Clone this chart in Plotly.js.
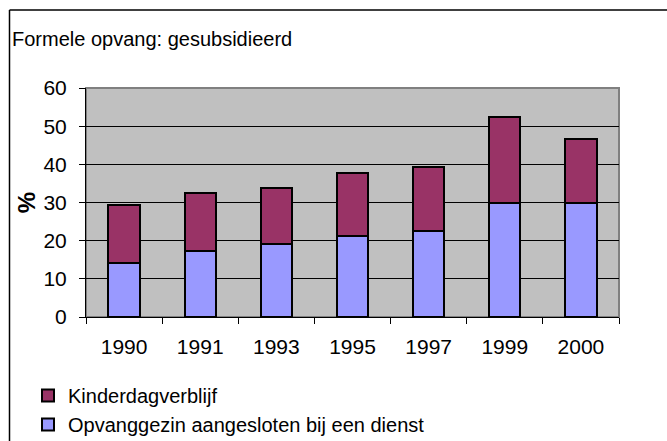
<!DOCTYPE html>
<html>
<head>
<meta charset="utf-8">
<script src="https://cdn.plot.ly/plotly-3.0.1.min.js"></script>
<style>html,body{margin:0;padding:0;background:#fff;}#chart{width:667px;height:441px;}</style>
</head>
<body>
<div id="chart"></div>
<script>
var years = ["1990", "1991", "1993", "1995", "1997", "1999", "2000"];
var opvanggezin = [14.2, 17.3, 19.0, 21.2, 22.6, 30.0, 30.0];
var kinderdagverblijf = [15.2, 15.2, 14.7, 16.6, 16.8, 22.5, 16.7];
var seriesNames = ["Opvanggezin aangesloten bij een dienst", "Kinderdagverblijf"];
var yTicks = [0, 10, 20, 30, 40, 50, 60];
var titleText = "Formele opvang: gesubsidieerd";

var W = 667, H = 441, L = 86, R = 48, T = 88, B = 124;
var pw = W - L - R, ph = H - T - B;
function px(x) { return (x - L) / pw; }
function py(y) { return (H - B - y) / ph; }

var font = "Liberation Sans, Arial, sans-serif";

var traces = [
  {
    type: "bar", x: years, y: opvanggezin, name: seriesNames[0], legendgroup: "a", legendrank: 2,
    marker: {color: "#9999ff", line: {color: "#000000", width: 2}}
  },
  {
    type: "bar", x: years, y: kinderdagverblijf, name: seriesNames[1], legendgroup: "b", legendrank: 1,
    marker: {color: "#993366", line: {color: "#000000", width: 2}}
  }
];

var layout = {
  width: W, height: H,
  margin: {l: L, r: R, t: T, b: B, pad: 0, autoexpand: false},
  paper_bgcolor: "#ffffff",
  plot_bgcolor: "#c0c0c0",
  barmode: "stack",
  bargap: 0.59,
  font: {family: font, color: "#000000", size: 21},
  title: {
    text: titleText, xref: "container", x: 12 / W, xanchor: "left",
    yref: "container", y: 1 - 39 / H, yanchor: "middle",
    font: {family: font, size: 20, color: "#000000"}
  },
  xaxis: {
    type: "category",
    showgrid: false,
    showline: true, linecolor: "#000000", linewidth: 1,
    ticks: "outside", tickson: "boundaries", ticklen: 6, tickcolor: "#000000", tickwidth: 1,
    ticklabelstandoff: 11,
    tickfont: {family: font, size: 21, color: "#000000"},
    zeroline: false, fixedrange: true
  },
  yaxis: {
    range: [0, 60],
    tickvals: yTicks,
    ticktext: yTicks.map(String),
    showgrid: true, gridcolor: "#000000", gridwidth: 1,
    showline: true, linecolor: "#000000", linewidth: 1,
    ticks: "outside", ticklen: 6, tickcolor: "#000000", tickwidth: 1,
    ticklabelstandoff: 8,
    tickfont: {family: font, size: 21, color: "#000000"},
    zeroline: false, fixedrange: true,
    title: {text: "<b>%</b>", standoff: 1, font: {family: font, size: 24, color: "#000000"}}
  },
  showlegend: true,
  legend: {
    traceorder: "grouped",
    orientation: "v",
    x: px(28), xanchor: "left",
    y: py(376), yanchor: "top",
    bgcolor: "rgba(0,0,0,0)",
    font: {family: font, size: 20, color: "#000000"},
    tracegroupgap: 0
  },
  shapes: [
    {type: "rect", xref: "paper", yref: "paper", x0: 0, x1: 1, y0: 0, y1: 1,
     line: {color: "#808080", width: 2}, fillcolor: "rgba(0,0,0,0)", layer: "below"},
    {type: "line", xref: "paper", yref: "paper", x0: px(9.5), x1: px(9.5), y0: py(10), y1: py(445),
     line: {color: "#000000", width: 1.5}},
    {type: "line", xref: "paper", yref: "paper", x0: px(9.5), x1: px(670), y0: py(10), y1: py(10),
     line: {color: "#000000", width: 1.5}}
  ]
};

Plotly.newPlot("chart", traces, layout, {displayModeBar: false, staticPlot: true});
</script>
</body>
</html>
